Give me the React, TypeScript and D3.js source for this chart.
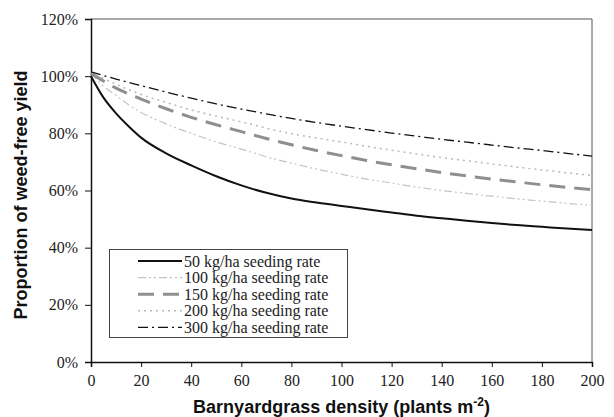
import React, { useEffect, useRef } from "react";
import * as d3 from "d3";

// densities (plants m-2) at which the curves were read
const density = [0, 5, 10, 15, 20, 30, 40, 50, 60, 70, 80, 90, 100, 110, 120, 130, 140, 150, 160, 170, 180, 190, 200];

// proportion of weed-free yield (%) per seeding rate
const rate50 = [100, 92.5, 87, 82.5, 78.5, 73, 68.8, 65, 61.8, 59.2, 57.2, 55.8, 54.6, 53.4, 52.3, 51.2, 50.3, 49.4, 48.6, 47.9, 47.3, 46.7, 46.2];
const rate100 = [101, 96.5, 93.3, 90, 87.3, 83.3, 80, 77, 74.5, 71.8, 69.6, 67.5, 65.7, 64, 62.6, 61.2, 60, 59, 58, 57.1, 56.3, 55.5, 54.8];
const rate150 = [101, 98.3, 95.8, 93.8, 92, 88.6, 85.6, 83, 80.6, 78.2, 76, 74, 72.2, 70.5, 69, 67.6, 66.3, 65.1, 64, 63, 62, 61.1, 60.3];
const rate200 = [101.5, 99.2, 97.2, 95.3, 93.6, 90.8, 88.2, 86, 84, 81.8, 79.9, 78.4, 77, 75.5, 74.1, 72.8, 71.5, 70.4, 69.3, 68.2, 67.2, 66.2, 65.3];
const rate300 = [101.5, 100.2, 99, 97.8, 96.7, 94.4, 92.3, 90.3, 88.5, 86.8, 85.2, 83.8, 82.5, 81.3, 80.1, 79, 77.9, 76.9, 75.9, 74.9, 74, 73, 72];

const seriesNames = [
  "50 kg/ha seeding rate",
  "100 kg/ha seeding rate",
  "150 kg/ha seeding rate",
  "200 kg/ha seeding rate",
  "300 kg/ha seeding rate",
];

const xTicks = [0, 20, 40, 60, 80, 100, 120, 140, 160, 180, 200];
const yTicks = [0, 20, 40, 60, 80, 100, 120];

// line styles for each series
const styles = [
  { stroke: "#111", width: 2, dash: null },
  { stroke: "#c4c4c4", width: 1.2, dash: "8,3,2,3,2,3" },
  { stroke: "#8f8f8f", width: 3, dash: "16,9" },
  { stroke: "#b8b8b8", width: 1.5, dash: "2,4" },
  { stroke: "#111", width: 1.3, dash: "10,4,2,4" },
];

const W = 614;
const H = 417;
const margin = { top: 19, right: 22, bottom: 55, left: 91 };

export default function App() {
  const ref = useRef<SVGSVGElement>(null);

  useEffect(() => {
    const svg = d3.select(ref.current);
    svg.selectAll("*").remove();

    const x = d3.scaleLinear().domain([0, 200]).range([margin.left, W - margin.right]);
    const y = d3.scaleLinear().domain([0, 120]).range([H - margin.bottom, margin.top]);

    const serif = "'Liberation Serif', 'Times New Roman', serif";
    const sans = "'Liberation Sans', Arial, sans-serif";

    // frame (top and right)
    svg
      .append("path")
      .attr("d", `M${x(0)},${y(120)}H${x(200)}V${y(0)}`)
      .attr("fill", "none")
      .attr("stroke", "#555")
      .attr("stroke-width", 1);

    // y axis
    const yAxis = svg
      .append("g")
      .attr("transform", `translate(${x(0)},0)`)
      .call(d3.axisLeft(y).tickValues(yTicks).tickSize(6).tickPadding(7).tickFormat((d) => `${d}%`));
    yAxis.select(".domain").attr("stroke", "#111").attr("stroke-width", 1.5);
    yAxis.selectAll(".tick line").attr("stroke", "#111");
    yAxis.selectAll("text").attr("font-family", serif).attr("font-size", 16).attr("fill", "#222");

    // x axis
    const xAxis = svg
      .append("g")
      .attr("transform", `translate(0,${y(0)})`)
      .call(d3.axisBottom(x).tickValues(xTicks).tickSize(5).tickPadding(8));
    xAxis.select(".domain").attr("stroke", "#111").attr("stroke-width", 1.5);
    xAxis.selectAll(".tick line").attr("stroke", "#111");
    xAxis.selectAll("text").attr("font-family", serif).attr("font-size", 16).attr("fill", "#222");

    // curves
    const all = [rate50, rate100, rate150, rate200, rate300];
    const line = d3
      .line<number>()
      .x((_, i) => x(density[i]))
      .y((d) => y(d))
      .curve(d3.curveMonotoneX);

    all.forEach((vals, i) => {
      const s = styles[i];
      svg
        .append("path")
        .attr("d", line(vals))
        .attr("fill", "none")
        .attr("stroke", s.stroke)
        .attr("stroke-width", s.width)
        .attr("stroke-dasharray", s.dash);
    });

    // legend
    const lg = svg.append("g");
    lg.append("rect")
      .attr("x", 109.5)
      .attr("y", 249.5)
      .attr("width", 238)
      .attr("height", 88)
      .attr("fill", "white")
      .attr("stroke", "#444")
      .attr("stroke-width", 1);

    seriesNames.forEach((name, i) => {
      const cy = 261 + i * 16.6;
      const s = styles[i];
      lg.append("line")
        .attr("x1", 138)
        .attr("x2", 182)
        .attr("y1", cy)
        .attr("y2", cy)
        .attr("stroke", s.stroke)
        .attr("stroke-width", s.width)
        .attr("stroke-dasharray", s.dash);
      lg.append("text")
        .attr("x", 184)
        .attr("y", cy + 5.5)
        .attr("font-family", serif)
        .attr("font-size", 16)
        .attr("fill", "#222")
        .text(name);
    });

    // axis titles
    const xt = svg
      .append("text")
      .attr("x", (x(0) + x(200)) / 2)
      .attr("y", 413)
      .attr("text-anchor", "middle")
      .attr("font-family", sans)
      .attr("font-weight", "bold")
      .attr("font-size", 18)
      .attr("fill", "#111");
    xt.append("tspan").text("Barnyardgrass density (plants m");
    xt.append("tspan").attr("dy", -7).attr("font-size", 12).text("-2");
    xt.append("tspan").attr("dy", 7).text(")");

    svg
      .append("text")
      .attr("transform", `translate(27,195) rotate(-90)`)
      .attr("text-anchor", "middle")
      .attr("font-family", sans)
      .attr("font-weight", "bold")
      .attr("font-size", 18)
      .attr("fill", "#111")
      .text("Proportion of weed-free yield");
  }, []);

  return (
    <div style={{ position: "absolute", left: 0, top: 0, background: "white" }}>
      <svg ref={ref} width={W} height={H} style={{ display: "block" }} />
    </div>
  );
}
